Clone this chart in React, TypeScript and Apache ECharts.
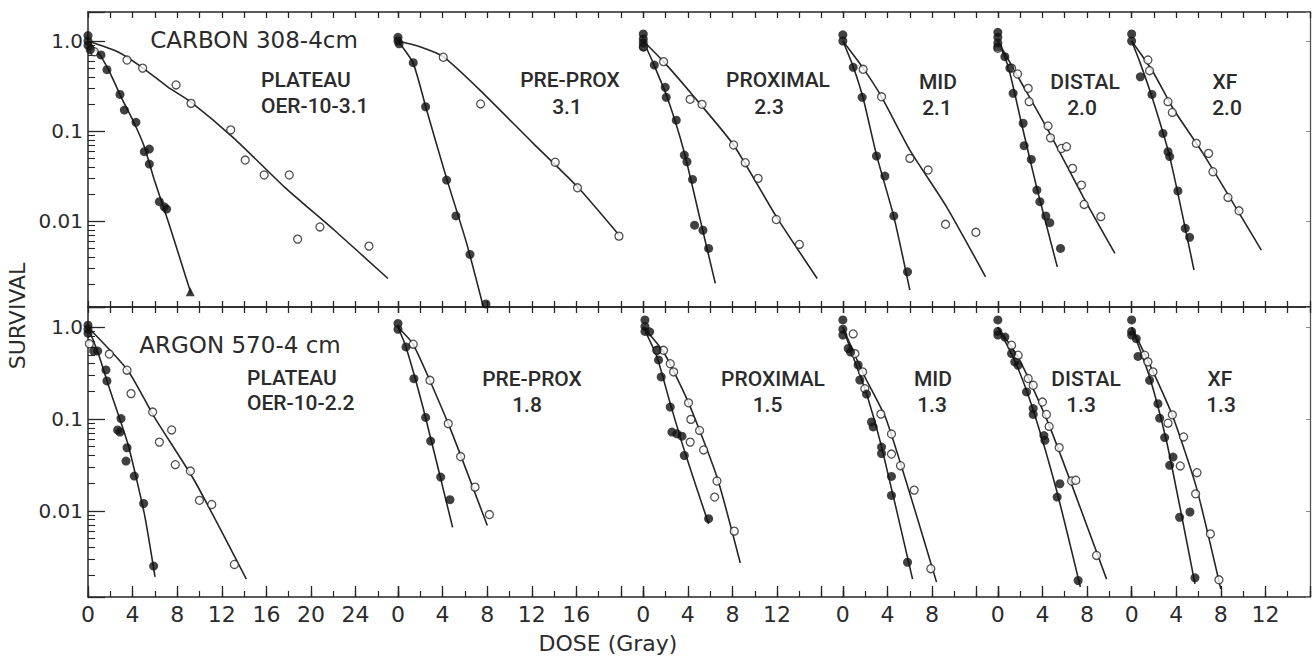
import React, { useEffect, useRef } from "react";
import * as echarts from "echarts";

type Pt = [number, number];

// ---------- labels ----------
const panelNames = ["PLATEAU", "PRE-PROX", "PROXIMAL", "MID", "DISTAL", "XF"];
const carbonOER = ["OER-10-3.1", "3.1", "2.3", "2.1", "2.0", "2.0"];
const argonOER = ["OER-10-2.2", "1.8", "1.5", "1.3", "1.3", "1.3"];
const rowTitles = ["CARBON 308-4cm", "ARGON 570-4 cm"];
const xTickLabels: number[][] = [
  [0, 4, 8, 12, 16, 20, 24],
  [0, 4, 8, 12, 16],
  [0, 4, 8, 12],
  [0, 4, 8],
  [0, 4, 8],
  [0, 4, 8, 12],
];
const yTickValues = [1, 0.1, 0.01];
const yTickTexts = ["1.0", "0.1", "0.01"];
const yMinorTickValues = [
  0.002, 0.003, 0.004, 0.005, 0.006, 0.007, 0.008, 0.009,
  0.02, 0.03, 0.04, 0.05, 0.06, 0.07, 0.08, 0.09,
  0.2, 0.3, 0.4, 0.5, 0.6, 0.7, 0.8, 0.9,
];
const panelSpans = [27.8, 22, 17.9, 13.9, 12, 16]; // Gy shown per panel
const rowYMin = [0.00111, 0.00115];
const rowYMax = [2.1, 1.66];

// ---------- CARBON (top row) ----------
const carbonPlateauAerobic: Pt[] = [[0, 1.15], [0, 1.0], [0, 0.9], [0.2, 0.8], [1.16, 0.7], [1.7, 0.48], [2.87, 0.255], [3.26, 0.171], [4.3, 0.125], [5.05, 0.059], [5.5, 0.063], [5.5, 0.043], [6.4, 0.0164], [6.84, 0.0144], [7.05, 0.0136]];
const carbonPlateauAerobicLast: Pt[] = [[9.17, 0.00164]];
const carbonPlateauAerobicFit: Pt[] = [[0, 1.0], [1.17, 0.67], [2.06, 0.42], [2.96, 0.24], [4.15, 0.122], [5.05, 0.067], [5.95, 0.0285], [7.15, 0.0103], [8.34, 0.00353], [9.24, 0.00157]];
const carbonPlateauHypoxic: Pt[] = [[0.57, 0.76], [3.5, 0.615], [4.9, 0.5], [7.9, 0.325], [9.24, 0.203], [12.8, 0.103], [14.1, 0.0476], [15.8, 0.0325], [18.05, 0.0325], [18.8, 0.0063], [20.8, 0.0086], [25.2, 0.00527]];
const carbonPlateauHypoxicFit: Pt[] = [[0, 1.0], [2.66, 0.76], [4.75, 0.52], [7.14, 0.31], [9.24, 0.21], [13.1, 0.083], [17.6, 0.024], [22.1, 0.0079], [26.9, 0.0023]];

const carbonPreProxAerobic: Pt[] = [[0, 1.1], [0, 1.0], [0.1, 0.93], [1.37, 0.574], [2.48, 0.186], [4.36, 0.0285], [5.2, 0.0114], [6.46, 0.00426], [7.89, 0.0012]];
const carbonPreProxAerobicFit: Pt[] = [[0, 1.0], [1.37, 0.565], [2.57, 0.171], [4.36, 0.0298], [6.16, 0.00565], [7.65, 0.00112]];
const carbonPreProxHypoxic: Pt[] = [[4.06, 0.66], [7.41, 0.2], [14.1, 0.045], [16.1, 0.0234], [19.82, 0.0068]];
const carbonPreProxHypoxicFit: Pt[] = [[0, 1.0], [1.97, 0.865], [4.06, 0.67], [7.35, 0.285], [12.13, 0.073], [16.1, 0.024], [19.82, 0.007]];

const carbonProximalAerobic: Pt[] = [[0, 1.2], [0, 1.05], [0, 0.95], [0, 0.86], [0.99, 0.54], [1.97, 0.306], [2.06, 0.237], [2.96, 0.132], [3.68, 0.054], [3.92, 0.0456], [4.42, 0.029], [4.6, 0.009], [5.35, 0.0079], [5.86, 0.00497]];
const carbonProximalAerobicFit: Pt[] = [[0, 1.0], [0.9, 0.565], [2.13, 0.24], [3.62, 0.0615], [5.11, 0.0103], [6.46, 0.00203]];
const carbonProximalHypoxic: Pt[] = [[0.03, 0.86], [1.82, 0.59], [4.2, 0.225], [5.27, 0.198], [8.1, 0.07], [9.15, 0.0445], [10.3, 0.0298], [11.93, 0.0104], [14.0, 0.0055]];
const carbonProximalHypoxicFit: Pt[] = [[0, 1.0], [1.82, 0.59], [4.42, 0.251], [8.1, 0.07], [11.93, 0.0112], [15.6, 0.0023]];

const carbonMidAerobic: Pt[] = [[0, 1.17], [0, 1.0], [0.93, 0.51], [1.73, 0.237], [3.02, 0.0528], [3.77, 0.0316], [4.57, 0.0114], [5.8, 0.00273]];
const carbonMidAerobicFit: Pt[] = [[0, 1.0], [0.93, 0.518], [1.82, 0.231], [3.02, 0.054], [4.57, 0.0112], [6.01, 0.00171]];
const carbonMidHypoxic: Pt[] = [[1.82, 0.485], [3.47, 0.24], [6.01, 0.0497], [7.65, 0.0369], [9.21, 0.0092], [11.93, 0.0075]];
const carbonMidHypoxicFit: Pt[] = [[0, 1.0], [1.82, 0.5], [3.47, 0.24], [6.01, 0.0615], [9.3, 0.0144], [12.8, 0.0024]];

const carbonDistalAerobic: Pt[] = [[0, 1.25], [0, 1.1], [0, 0.95], [0, 0.86], [0.63, 0.67], [1.08, 0.5], [1.37, 0.262], [2.27, 0.122], [2.36, 0.0687], [3.0, 0.0484], [3.5, 0.0221], [3.77, 0.0164], [4.3, 0.0114], [4.66, 0.0096], [5.62, 0.00497]];
const carbonDistalAerobicFit: Pt[] = [[0, 1.0], [0.93, 0.52], [2.12, 0.122], [3.47, 0.024], [5.33, 0.0031]];
const carbonDistalHypoxic: Pt[] = [[0, 0.83], [1.23, 0.5], [1.77, 0.43], [2.72, 0.298], [2.81, 0.212], [4.5, 0.114], [4.72, 0.084], [5.7, 0.064], [6.16, 0.067], [6.7, 0.0385], [7.5, 0.0251], [7.74, 0.0153], [9.24, 0.0112]];
const carbonDistalHypoxicFit: Pt[] = [[0, 1.0], [1.97, 0.369], [4.66, 0.094], [7.65, 0.0186], [10.5, 0.00437]];

const carbonXfAerobic: Pt[] = [[0, 1.2], [0, 1.0], [0.78, 0.4], [1.82, 0.255], [2.81, 0.094], [3.26, 0.059], [3.41, 0.052], [4.15, 0.0216], [4.81, 0.0083], [5.2, 0.0066]];
const carbonXfAerobicFit: Pt[] = [[0, 1.0], [0.72, 0.59], [1.82, 0.24], [3.41, 0.052], [5.59, 0.00286]];
const carbonXfHypoxic: Pt[] = [[1.46, 0.615], [1.61, 0.468], [3.26, 0.212], [3.65, 0.161], [5.8, 0.073], [6.9, 0.0565], [7.29, 0.0353], [8.64, 0.0183], [9.63, 0.013]];
const carbonXfHypoxicFit: Pt[] = [[0, 1.0], [1.91, 0.456], [3.7, 0.179], [6.4, 0.0565], [11.63, 0.00476]];

// ---------- ARGON (bottom row) ----------
const argonPlateauAerobic: Pt[] = [[0, 1.05], [0, 0.95], [0, 0.86], [0.51, 0.55], [0.87, 0.55], [1.61, 0.342], [1.7, 0.26], [2.96, 0.101], [2.66, 0.076], [2.87, 0.072], [3.5, 0.0486], [3.41, 0.0348], [4.15, 0.0239], [4.99, 0.012], [5.89, 0.0025]];
const argonPlateauAerobicFit: Pt[] = [[0, 1.0], [0.87, 0.54], [1.97, 0.207], [3.56, 0.0543], [5.05, 0.0093], [6.01, 0.0019]];
const argonPlateauHypoxic: Pt[] = [[0.12, 0.66], [1.91, 0.51], [3.5, 0.34], [3.86, 0.189], [5.8, 0.119], [6.4, 0.056], [7.5, 0.076], [7.83, 0.0318], [9.18, 0.0271], [9.99, 0.013], [11.1, 0.0117], [13.13, 0.0026]];
const argonPlateauHypoxicFit: Pt[] = [[0, 1.0], [3.56, 0.34], [5.95, 0.105], [9.53, 0.0215], [14.2, 0.0018]];

const argonPreProxAerobic: Pt[] = [[0, 1.1], [0, 0.95], [0.72, 0.61], [1.43, 0.275], [2.48, 0.104], [2.93, 0.0575], [3.83, 0.0233], [4.66, 0.0132]];
const argonPreProxAerobicFit: Pt[] = [[0, 1.0], [0.72, 0.61], [2.27, 0.13], [4.9, 0.0066]];
const argonPreProxHypoxic: Pt[] = [[1.37, 0.653], [2.87, 0.264], [4.51, 0.089], [5.62, 0.039], [6.91, 0.0181], [8.2, 0.0091]];
const argonPreProxHypoxicFit: Pt[] = [[0, 1.0], [1.37, 0.65], [4.51, 0.089], [8.01, 0.0069]];

const argonProximalAerobic: Pt[] = [[0.15, 1.2], [0.15, 1.02], [0.15, 0.9], [0.57, 0.89], [1.23, 0.56], [1.37, 0.44], [1.61, 0.287], [2.42, 0.135], [2.57, 0.072], [3.02, 0.069], [3.47, 0.065], [3.68, 0.04], [5.86, 0.0082]];
const argonProximalAerobicFit: Pt[] = [[0, 1.0], [1.23, 0.474], [2.42, 0.147], [3.77, 0.042], [5.86, 0.0072]];
const argonProximalHypoxic: Pt[] = [[1.23, 0.56], [1.82, 0.56], [2.42, 0.4], [2.72, 0.326], [4.06, 0.15], [4.27, 0.099], [5.05, 0.075], [4.21, 0.056], [5.41, 0.046], [6.61, 0.0211], [6.4, 0.0141], [8.16, 0.006]];
const argonProximalHypoxicFit: Pt[] = [[0, 1.0], [1.82, 0.537], [4.06, 0.15], [6.61, 0.0233], [8.7, 0.0027]];

const argonMidAerobic: Pt[] = [[0, 1.2], [0, 0.95], [0, 0.82], [0.48, 0.586], [0.69, 0.537], [1.37, 0.388], [1.52, 0.266], [2.12, 0.187], [2.57, 0.093], [2.72, 0.082], [3.47, 0.0495], [3.47, 0.042], [4.36, 0.0237], [4.36, 0.0147], [5.8, 0.00275]];
const argonMidAerobicFit: Pt[] = [[0, 1.0], [0.93, 0.474], [2.12, 0.19], [3.47, 0.05], [6.25, 0.0018]];
const argonMidHypoxic: Pt[] = [[0.93, 0.845], [1.08, 0.516], [1.77, 0.326], [1.97, 0.214], [3.41, 0.113], [4.36, 0.0686], [4.36, 0.0415], [5.17, 0.031], [6.4, 0.0168], [7.89, 0.00234]];
const argonMidHypoxicFit: Pt[] = [[0, 1.0], [1.82, 0.313], [3.92, 0.097], [8.4, 0.00167]];

const argonDistalAerobic: Pt[] = [[0, 1.2], [0, 0.9], [0, 0.82], [0.63, 0.78], [1.23, 0.516], [1.52, 0.419], [1.82, 0.385], [2.57, 0.197], [3.17, 0.13], [3.17, 0.112], [4.13, 0.066], [4.22, 0.0586], [5.56, 0.0197], [5.32, 0.0141], [7.2, 0.00174]];
const argonDistalAerobicFit: Pt[] = [[0, 1.0], [1.64, 0.4], [3.17, 0.125], [5.27, 0.0166], [7.4, 0.00148]];
const argonDistalHypoxic: Pt[] = [[1.23, 0.637], [1.82, 0.496], [2.72, 0.276], [3.17, 0.233], [4.0, 0.153], [4.36, 0.112], [4.6, 0.083], [5.5, 0.0488], [6.61, 0.0211], [6.99, 0.0215], [8.85, 0.00326]];
const argonDistalHypoxicFit: Pt[] = [[0, 1.0], [1.97, 0.436], [4.66, 0.082], [9.75, 0.0018]];

const argonXfAerobic: Pt[] = [[0, 1.2], [0, 0.9], [0, 0.82], [0.42, 0.75], [0.57, 0.48], [1.61, 0.264], [2.36, 0.147], [2.51, 0.102], [2.96, 0.0627], [3.71, 0.0385], [3.41, 0.0313], [4.3, 0.0085], [5.23, 0.0097], [5.68, 0.00186]];
const argonXfAerobicFit: Pt[] = [[0, 1.0], [1.61, 0.287], [3.11, 0.0586], [4.33, 0.011], [5.68, 0.0016]];
const argonXfHypoxic: Pt[] = [[1.17, 0.496], [1.46, 0.419], [1.91, 0.326], [3.65, 0.111], [3.26, 0.09], [4.66, 0.0637], [4.36, 0.0308], [5.86, 0.026], [5.74, 0.0153], [7.06, 0.0056], [7.83, 0.00177]];
const argonXfHypoxicFit: Pt[] = [[0, 1.0], [1.91, 0.33], [3.71, 0.105], [5.8, 0.0181], [8.0, 0.0014]];

type Panel = { aerobic: Pt[]; aerobicFit: Pt[]; hypoxic: Pt[]; hypoxicFit: Pt[]; extraTriangle?: Pt[] };

const rows: Panel[][] = [
  [
    { aerobic: carbonPlateauAerobic, aerobicFit: carbonPlateauAerobicFit, hypoxic: carbonPlateauHypoxic, hypoxicFit: carbonPlateauHypoxicFit, extraTriangle: carbonPlateauAerobicLast },
    { aerobic: carbonPreProxAerobic, aerobicFit: carbonPreProxAerobicFit, hypoxic: carbonPreProxHypoxic, hypoxicFit: carbonPreProxHypoxicFit },
    { aerobic: carbonProximalAerobic, aerobicFit: carbonProximalAerobicFit, hypoxic: carbonProximalHypoxic, hypoxicFit: carbonProximalHypoxicFit },
    { aerobic: carbonMidAerobic, aerobicFit: carbonMidAerobicFit, hypoxic: carbonMidHypoxic, hypoxicFit: carbonMidHypoxicFit },
    { aerobic: carbonDistalAerobic, aerobicFit: carbonDistalAerobicFit, hypoxic: carbonDistalHypoxic, hypoxicFit: carbonDistalHypoxicFit },
    { aerobic: carbonXfAerobic, aerobicFit: carbonXfAerobicFit, hypoxic: carbonXfHypoxic, hypoxicFit: carbonXfHypoxicFit },
  ],
  [
    { aerobic: argonPlateauAerobic, aerobicFit: argonPlateauAerobicFit, hypoxic: argonPlateauHypoxic, hypoxicFit: argonPlateauHypoxicFit },
    { aerobic: argonPreProxAerobic, aerobicFit: argonPreProxAerobicFit, hypoxic: argonPreProxHypoxic, hypoxicFit: argonPreProxHypoxicFit },
    { aerobic: argonProximalAerobic, aerobicFit: argonProximalAerobicFit, hypoxic: argonProximalHypoxic, hypoxicFit: argonProximalHypoxicFit },
    { aerobic: argonMidAerobic, aerobicFit: argonMidAerobicFit, hypoxic: argonMidHypoxic, hypoxicFit: argonMidHypoxicFit },
    { aerobic: argonDistalAerobic, aerobicFit: argonDistalAerobicFit, hypoxic: argonDistalHypoxic, hypoxicFit: argonDistalHypoxicFit },
    { aerobic: argonXfAerobic, aerobicFit: argonXfAerobicFit, hypoxic: argonXfHypoxic, hypoxicFit: argonXfHypoxicFit },
  ],
];

// ---------- layout ----------
const PX_PER_GY = 11.15;
const LEFT0 = 88;
const rowTop = [12, 307];
const rowBottom = [307, 597];
const INK = "#262626";
const TEXT = "#2b2b2b";
const AXIS_FONT = "DejaVu Sans";
const LABEL_FONT = "Roboto";

// annotation positions (x, y middle, alignment)
const titlePos = [[254, 40], [240, 345]];
const namePos = [
  [[261, 79.5, "left"], [570, 79.5, "center"], [778, 79.5, "center"], [938, 81.5, "center"], [1085, 81.5, "center"], [1225, 81.5, "center"]],
  [[247, 377.5, "left"], [532, 379, "center"], [773, 379, "center"], [933, 378.5, "center"], [1086, 378.5, "center"], [1220, 378.5, "center"]],
];
const oerPos = [
  [[261, 106, "left"], [567, 106.5, "center"], [769, 106.5, "center"], [937, 108, "center"], [1082, 108, "center"], [1227, 108, "center"]],
  [[247, 402.5, "left"], [527, 405, "center"], [767.5, 405, "center"], [932, 405, "center"], [1081, 405, "center"], [1221, 405, "center"]],
];

function buildOption() {
  const grids: any[] = [];
  const xAxes: any[] = [];
  const yAxes: any[] = [];
  const series: any[] = [];
  const lineStyle = { color: INK, width: 1.5 };

  rows.forEach((row, r) => {
    let left = LEFT0;
    const isBottom = r === 1;
    row.forEach((panel, p) => {
      const span = panelSpans[p];
      const width = span * PX_PER_GY;
      const g = grids.length;
      grids.push({ left, top: rowTop[r], width, height: rowBottom[r] - rowTop[r], outerBoundsMode: "none", containLabel: false });

      const labels = xTickLabels[p];
      const xMain = xAxes.length;
      xAxes.push({
        type: "value", gridIndex: g, position: "bottom", min: 0, max: span, interval: isBottom ? 4 : 2,
        axisLine: { show: true, onZero: false, lineStyle },
        axisTick: { show: true, inside: true, length: isBottom ? 11 : 6, lineStyle: { color: INK, width: 1.3 } },
        axisLabel: isBottom
          ? {
              show: true, margin: 6, color: TEXT, fontFamily: AXIS_FONT, fontSize: 22,
              formatter: (v: number) => (labels.some((l) => Math.abs(l - v) < 1e-6) ? String(Math.round(v)) : ""),
            }
          : { show: false },
        splitLine: { show: false },
      });
      xAxes.push({
        type: "value", gridIndex: g, position: "top", min: 0, max: span, interval: 2,
        axisLine: { show: true, onZero: false, lineStyle },
        axisTick: { show: true, inside: true, length: 6, lineStyle: { color: INK, width: 1.3 } },
        axisLabel: { show: false }, splitLine: { show: false },
      });
      if (isBottom) {
        xAxes.push({
          type: "value", gridIndex: g, position: "bottom", min: 0, max: span, interval: 2,
          axisLine: { show: false, onZero: false },
          axisTick: { show: true, inside: true, length: 6, lineStyle: { color: INK, width: 1.2 } },
          axisLabel: { show: false }, splitLine: { show: false },
        });
      }

      const yMain = yAxes.length;
      yAxes.push({
        type: "log", logBase: 10, gridIndex: g, position: "left", min: rowYMin[r], max: rowYMax[r],
        show: p === 0,
        axisLine: { show: true, onZero: false, lineStyle },
        axisTick: { show: true, inside: true, length: 17, lineStyle: { color: INK, width: 1.3 } },
        axisLabel: {
          show: true, margin: 5, color: TEXT, fontFamily: AXIS_FONT, fontSize: 20,
          formatter: (v: number) => {
            const i = yTickValues.findIndex((t) => Math.abs(Math.log10(t) - Math.log10(v)) < 1e-6);
            return i >= 0 ? yTickTexts[i] : "";
          },
        },
        splitLine: { show: false },
      });
      if (p === 0) {
        yAxes.push({
          type: "log", logBase: 10, gridIndex: g, position: "left", min: rowYMin[r], max: rowYMax[r],
          axisLine: { show: false, onZero: false },
          axisTick: { show: true, inside: true, length: 7, customValues: yMinorTickValues, lineStyle: { color: INK, width: 1.1 } },
          axisLabel: { show: false }, splitLine: { show: false },
        });
      }
      if (p === row.length - 1) {
        yAxes.push({
          type: "log", logBase: 10, gridIndex: g, position: "right", min: rowYMin[r], max: rowYMax[r],
          axisLine: { show: true, onZero: false, lineStyle: { color: "#555", width: 1.3 } },
          axisTick: { show: true, inside: true, length: 4, lineStyle: { color: "#888", width: 1 } },
          axisLabel: { show: false }, splitLine: { show: false },
        });
      }

      const common = { xAxisIndex: xMain, yAxisIndex: yMain, silent: true };
      series.push({ ...common, type: "line", data: panel.aerobicFit, symbol: "none", showSymbol: false, smooth: 0.2, lineStyle: { color: INK, width: 1.6 }, z: 2 });
      series.push({ ...common, type: "line", data: panel.hypoxicFit, symbol: "none", showSymbol: false, smooth: 0.2, lineStyle: { color: INK, width: 1.6 }, z: 2 });
      series.push({ ...common, type: "scatter", data: panel.hypoxic, symbol: "circle", symbolSize: 8, itemStyle: { color: "#ffffff", borderColor: INK, borderWidth: 1.3 }, z: 3 });
      series.push({ ...common, type: "scatter", data: panel.aerobic, symbol: "circle", symbolSize: 9, itemStyle: { color: "#111111" }, z: 4 });
      if (panel.extraTriangle) {
        series.push({ ...common, type: "scatter", data: panel.extraTriangle, symbol: "triangle", symbolSize: 9, itemStyle: { color: "#111111" }, z: 4 });
      }

      left += width;
    });
  });

  const graphics: any[] = [];
  const txt = (x: number, y: number, text: string, font: string, align: string, rotation = 0) => ({
    type: "text", x, y, rotation, silent: true,
    style: { text, font, fill: TEXT, align, verticalAlign: "middle", textAlign: align, textVerticalAlign: "middle" },
  });
  rowTitles.forEach((t, r) => graphics.push(txt(titlePos[r][0], titlePos[r][1], t, `23px ${AXIS_FONT}`, "center")));
  [carbonOER, argonOER].forEach((oers, r) => {
    panelNames.forEach((name, p) => {
      const np = namePos[r][p] as any[];
      const op = oerPos[r][p] as any[];
      graphics.push(txt(np[0], np[1], name, `500 21px ${LABEL_FONT}`, np[2]));
      graphics.push(txt(op[0], op[1], oers[p], `500 21px ${LABEL_FONT}`, op[2]));
    });
  });
  graphics.push(txt(608, 643, "DOSE (Gray)", `22px ${AXIS_FONT}`, "center"));
  graphics.push(txt(17, 316, "SURVIVAL", `22px ${AXIS_FONT}`, "center", Math.PI / 2));

  return {
    animation: false,
    backgroundColor: "#ffffff",
    grid: grids,
    xAxis: xAxes,
    yAxis: yAxes,
    series,
    graphic: { elements: graphics },
  };
}

export default function App() {
  const ref = useRef<HTMLDivElement>(null);
  useEffect(() => {
    if (!ref.current) return;
    const chart = echarts.init(ref.current, undefined, { renderer: "svg" });
    chart.setOption(buildOption() as any);
    return () => chart.dispose();
  }, []);
  return (
    <div
      ref={ref}
      style={{ position: "absolute", left: 0, top: 0, width: 1313, height: 658, background: "#fff" }}
    />
  );
}
